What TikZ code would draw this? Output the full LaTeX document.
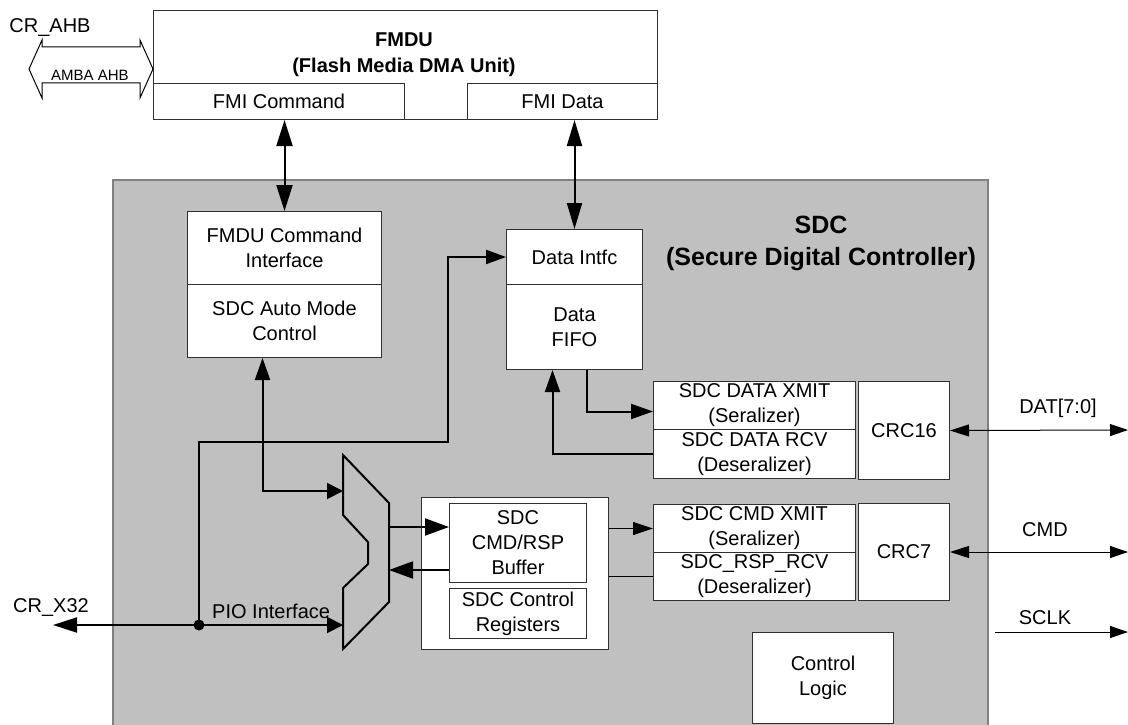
\documentclass[tikz,border=0pt]{standalone}
\usepackage{fontspec}
\setmainfont{Liberation Sans}
\usetikzlibrary{arrows.meta}
\definecolor{sdcgray}{HTML}{C0C0C0}
\definecolor{edgegray}{HTML}{808080}
\definecolor{boxline}{HTML}{303030}
\begin{document}
\begin{tikzpicture}[x=1pt,y=-1pt,
  every node/.style={font=\fontsize{20}{25}\selectfont},
  box/.style={draw=boxline, line width=1pt, fill=white, align=center, inner sep=0pt, anchor=north west},
  conn/.style={line width=2pt, draw=black, arrows={-Triangle[length=20pt,width=14pt]}},
  conns/.style={line width=2pt, draw=black},
  thinconn/.style={line width=1.2pt, draw=black},
  lbl/.style={inner sep=0pt, align=center}]
\useasboundingbox (0,0) rectangle (1128,725);
% SDC gray region
\fill[sdcgray] (113,180) rectangle (988,725);
\draw[edgegray, line width=1.5pt] (113,725) -- (113,180) -- (988,180) -- (988,725);

% FMDU
\node[box, minimum width=504pt, minimum height=109pt] (fmdu) at (153,10) {};
\node[lbl, font=\fontsize{20}{26}\selectfont\bfseries] (fmdutitle) at (404,55) {FMDU\\(Flash Media DMA Unit)};
\node[box, minimum width=251pt, minimum height=36pt] (fmicmd) at (153,83) {FMI Command};
\node[box, minimum width=190pt, minimum height=36pt] (fmidata) at (467,83) {FMI Data};

% AMBA AHB hollow arrow
\draw[black, line width=1pt, fill=white] (29,69) -- (42,40) -- (42,47) -- (140,47) -- (140,40) -- (153,69) -- (140,98) -- (140,83) -- (42,83) -- (42,98) -- cycle;
\node[lbl, font=\fontsize{15}{18}\selectfont] (amba) at (90,75) {AMBA AHB};
\node[lbl] (crahb) at (50,28) {CR\_AHB};

% SDC title
\node[lbl, font=\fontsize{25}{32}\selectfont\bfseries] (sdctitle) at (821,243) {SDC\\(Secure Digital Controller)};

% inner blocks
\node[box, minimum width=194pt, minimum height=73pt] (cmdif) at (187,211) {FMDU Command\\Interface};
\node[box, minimum width=194pt, minimum height=73pt] (automode) at (187,284) {SDC Auto Mode\\Control};
\node[box, minimum width=136pt, minimum height=55pt] (dataif) at (506,229) {Data Intfc};
\node[box, minimum width=136pt, minimum height=85pt] (fifo) at (506,284) {Data\\FIFO};

\node[box, minimum width=202pt, minimum height=48pt] (dxmit) at (653,381) {SDC DATA XMIT\\(Seralizer)};
\node[box, minimum width=202pt, minimum height=49pt] (drcv) at (653,429) {SDC DATA RCV\\(Deseralizer)};
\node[box, minimum width=91pt, minimum height=98pt] (crc16) at (858,381) {CRC16};

\node[box, minimum width=202pt, minimum height=48pt] (cxmit) at (653,504) {SDC CMD XMIT\\(Seralizer)};
\node[box, minimum width=202pt, minimum height=48pt] (crsp) at (653,552) {SDC\_RSP\_RCV\\(Deseralizer)};
\node[box, minimum width=91pt, minimum height=97pt] (crc7) at (858,503) {CRC7};

\node[box, minimum width=187pt, minimum height=152pt] (outer) at (421,497) {};
\node[box, minimum width=137pt, minimum height=79pt] (buffer) at (449,503) {SDC\\CMD/RSP\\Buffer};
\node[box, minimum width=137pt, minimum height=50pt] (ctrlreg) at (449,588) {SDC Control\\Registers};

\node[box, minimum width=141pt, minimum height=91pt] (ctrllogic) at (752,632) {Control\\Logic};

% mux
\draw[black, line width=2pt, line join=miter] (343,455) -- (389,503) -- (389,602) -- (343,649) -- (343,588) -- (368,564) -- (368,542) -- (343,515) -- cycle;
\coordinate (muxin1) at (343,491);
\coordinate (muxin2) at (343,625);
\coordinate (muxout1) at (389,527);
\coordinate (muxout2) at (389,570);

% external coordinates
\coordinate (pio) at (199,625);
\coordinate (crx32) at (53,625);
\coordinate (datR) at (1128,430);
\coordinate (cmdR) at (1128,552);
\coordinate (sclkL) at (995,632);
\coordinate (sclkR) at (1128,632);

% connectors
\draw[conns, {Triangle[length=26pt,width=16pt]}-{Triangle[length=26pt,width=16pt]}] (cmdif.north |- fmicmd.south) -- (cmdif.north);
\draw[conns, {Triangle[length=26pt,width=15pt]}-{Triangle[length=26pt,width=15pt]}] (dataif.north |- fmidata.south) -- (dataif.north);

\draw[conns, {Triangle[length=22pt,width=15pt]}-{Triangle[length=16pt,width=16pt]}] ([xshift=-22pt]automode.south) |- (muxin1);
\draw[conn] (pio) -- (199,442) -| (448,300) |- (dataif.west);
\draw[conns, {Triangle[length=24pt,width=15pt]}-{Triangle[length=16pt,width=16pt]}] (crx32) -- (muxin2);
\fill[black] (pio) circle (5.5pt);
\node[lbl, anchor=south west] (piolbl) at (212,619) {PIO Interface};
\node[lbl] (crx32lbl) at (51,607) {CR\_X32};

\draw[conn, arrows={-Triangle[length=24pt,width=17pt]}] (muxout1) -- (buffer.west |- muxout1);
\draw[conn, arrows={-Triangle[length=24pt,width=17pt]}] (buffer.west |- muxout2) -- (muxout2);

\draw[thinconn, -{Triangle[length=20pt,width=13pt]}] (outer.east |- cxmit.west) -- (cxmit.west);
\draw[thinconn] (crsp.west) -- (outer.east |- crsp.west);

\draw[conns, -{Triangle[length=22pt,width=15pt]}] ([xshift=12pt]fifo.south) |- ([yshift=-6pt]dxmit.west);
\draw[conns, -{Triangle[length=22pt,width=15pt]}] (drcv.west) -| ([xshift=-22pt]fifo.south);

\draw[line width=1pt, {Triangle[length=19pt,width=12pt]}-{Triangle[length=18pt,width=12pt]}] (crc16.east) -- (datR);
\draw[line width=1pt, {Triangle[length=19pt,width=12pt]}-{Triangle[length=18pt,width=12pt]}] (crc7.east) -- (cmdR);
\draw[line width=1pt, -{Triangle[length=18pt,width=12pt]}] (sclkL) -- (sclkR);

\node[lbl] (datlbl) at (1058,408) {DAT[7:0]};
\node[lbl] (cmdlbl) at (1045,530) {CMD};
\node[lbl] (sclklbl) at (1045,618) {SCLK};
\end{tikzpicture}
\end{document}
